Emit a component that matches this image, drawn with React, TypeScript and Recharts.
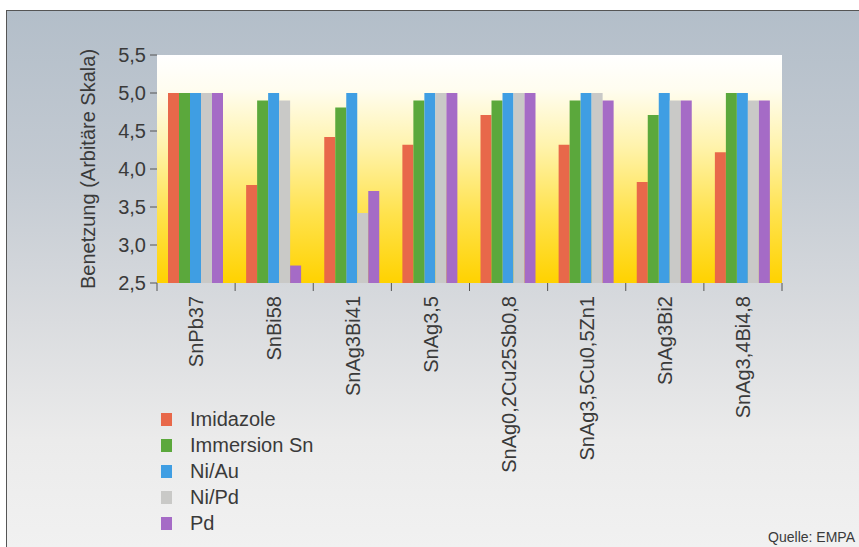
import React from 'react';
import { BarChart, Bar, XAxis, YAxis, CartesianGrid, Legend } from 'recharts';

const alloys = [
  'SnPb37',
  'SnBi58',
  'SnAg3Bi41',
  'SnAg3,5',
  'SnAg0,2Cu25Sb0,8',
  'SnAg3,5Cu0,5Zn1',
  'SnAg3Bi2',
  'SnAg3,4Bi4,8',
];
const imidazole = [5.0, 3.79, 4.42, 4.32, 4.71, 4.32, 3.83, 4.22];
const immersionSn = [5.0, 4.9, 4.81, 4.9, 4.9, 4.9, 4.71, 5.0];
const niAu = [5.0, 5.0, 5.0, 5.0, 5.0, 5.0, 5.0, 5.0];
const niPd = [5.0, 4.9, 3.42, 5.0, 5.0, 5.0, 4.9, 4.9];
const pd = [5.0, 2.73, 3.71, 5.0, 5.0, 4.9, 4.9, 4.9];
const yTicks = [2.5, 3.0, 3.5, 4.0, 4.5, 5.0, 5.5];

const series = [
  { key: 'imidazole', name: 'Imidazole', color: '#e8684a' },
  { key: 'immersionSn', name: 'Immersion Sn', color: '#5ba83c' },
  { key: 'niAu', name: 'Ni/Au', color: '#3f9ee3' },
  { key: 'niPd', name: 'Ni/Pd', color: '#c9c9c7' },
  { key: 'pd', name: 'Pd', color: '#a56bc6' },
];

const data = alloys.map((alloy, i) => ({
  alloy,
  imidazole: imidazole[i],
  immersionSn: immersionSn[i],
  niAu: niAu[i],
  niPd: niPd[i],
  pd: pd[i],
}));

const FONT = '"Liberation Sans", Arial, Helvetica, sans-serif';
const TEXT = '#3a3a3a';

// rotated alloy name plus the short separator ticks between categories
function AlloyTick(props: any) {
  const { x, y, payload, index } = props;
  const half = payload.offset || 39;
  const last = index === alloys.length - 1;
  return (
    <g transform={`translate(${x},${y})`}>
      <line x1={-half} y1={0} x2={-half} y2={8} stroke="#555" strokeWidth={1} />
      {last && <line x1={half} y1={0} x2={half} y2={8} stroke="#555" strokeWidth={1} />}
      <text
        transform="rotate(-90)"
        x={-13}
        y={0}
        dy="0.36em"
        textAnchor="end"
        fontSize={20}
        fontFamily={FONT}
        fill={TEXT}
      >
        {payload.value}
      </text>
    </g>
  );
}

function LegendList({ payload }: any) {
  return (
    <div style={{ fontFamily: FONT, fontSize: 20, color: TEXT }}>
      {(payload || []).map((p: any) => (
        <div key={p.value} style={{ display: 'flex', alignItems: 'center', height: 26 }}>
          <span style={{ width: 11, height: 13, background: p.color, marginRight: 18 }} />
          <span>{p.value}</span>
        </div>
      ))}
    </div>
  );
}

export default function App() {
  return (
    <div
      style={{
        position: 'absolute',
        left: 0,
        top: 0,
        width: 859,
        height: 547,
        overflow: 'hidden',
        background: '#ffffff',
        fontFamily: FONT,
      }}
    >
      <div
        style={{
          position: 'absolute',
          left: 6,
          top: 10,
          right: 0,
          bottom: 0,
          borderLeft: '1.5px solid #555',
          borderTop: '1.5px solid #555',
          background: 'linear-gradient(to bottom, #b3bec9 0%, #c3cad2 30%, #dadcdf 58%, #ebebeb 80%, #f1f1f1 100%)',
        }}
      />
      <div style={{ position: 'absolute', left: 0, top: 0 }}>
        <BarChart
          width={859}
          height={547}
          data={data}
          margin={{ top: 55, right: 77, bottom: 64, left: 19 }}
          barCategoryGap={11}
          barGap={0}
        >
          <defs>
            <linearGradient id="plotBg" x1="0" y1="0" x2="0" y2="1">
              <stop offset="0%" stopColor="#ffffff" />
              <stop offset="15%" stopColor="#fffdf0" />
              <stop offset="40%" stopColor="#fff3ac" />
              <stop offset="70%" stopColor="#ffe24c" />
              <stop offset="100%" stopColor="#ffd200" />
            </linearGradient>
          </defs>
          <CartesianGrid horizontal={false} vertical={false} fill="url(#plotBg)" stroke="none" />
          <XAxis
            dataKey="alloy"
            axisLine={false}
            tickLine={false}
            tickSize={0}
            tickMargin={0}
            height={200}
            interval={0}
            tick={<AlloyTick />}
          />
          <YAxis
            type="number"
            domain={[2.5, 5.5]}
            ticks={yTicks}
            allowDataOverflow
            width={138}
            axisLine={false}
            tickSize={7}
            tickMargin={4}
            tickLine={{ stroke: '#555' }}
            tickFormatter={(v: number) => v.toFixed(1).replace('.', ',')}
            tick={{ fontSize: 20, fontFamily: FONT, fill: TEXT }}
            label={{
              value: 'Benetzung (Arbitäre Skala)',
              angle: -90,
              position: 'center',
              fontSize: 20,
              fontFamily: FONT,
              fill: TEXT,
            }}
          />
          <Legend
            layout="vertical"
            align="center"
            verticalAlign="middle"
            content={<LegendList />}
            wrapperStyle={{ left: 161, top: 406, width: 220 }}
          />
          {series.map((s) => (
            <Bar key={s.key} dataKey={s.key} name={s.name} fill={s.color} isAnimationActive={false} />
          ))}
        </BarChart>
      </div>
      <div
        style={{
          position: 'absolute',
          right: 4,
          top: 529,
          fontSize: 14,
          lineHeight: '16px',
          color: TEXT,
          whiteSpace: 'nowrap',
        }}
      >
        Quelle: EMPA
      </div>
    </div>
  );
}
